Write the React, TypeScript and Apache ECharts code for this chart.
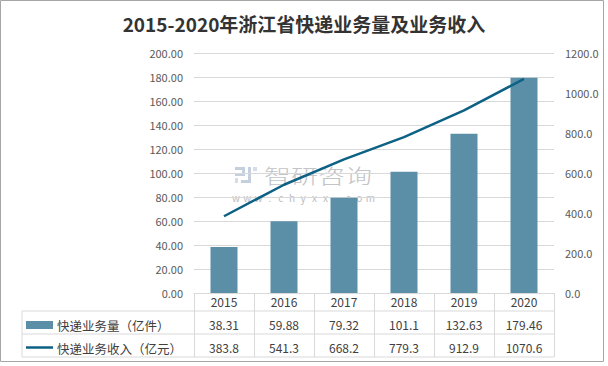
import React, { useEffect, useRef } from "react";
import * as echarts from "echarts";

const years = ["2015", "2016", "2017", "2018", "2019", "2020"];
const volume = [38.31, 59.88, 79.32, 101.1, 132.63, 179.46];
const volumeLabels = ["38.31", "59.88", "79.32", "101.1", "132.63", "179.46"];
const revenue = [383.8, 541.3, 668.2, 779.3, 912.9, 1070.6];
const revenueLabels = ["383.8", "541.3", "668.2", "779.3", "912.9", "1070.6"];
const seriesNames = ["快递业务量（亿件）", "快递业务收入（亿元）"];
const title = "2015-2020年浙江省快递业务量及业务收入";
const watermarkName = "智研咨询";
const watermarkUrl = "www.chyxx.com";

const BAR = "#5b8fa7";
const LINE = "#0d6184";
const GRID = "#d9d9d9";
const TXT = "#404040";
const FONT = "'Noto Sans CJK SC', 'Noto Sans', sans-serif";

export default function App() {
  const ref = useRef<HTMLDivElement>(null);
  useEffect(() => {
    if (!ref.current) return;
    const chart = echarts.init(ref.current, undefined, { renderer: "svg" });
    const gl = 194, gr = 554, gb = 293;
    const rowH = 23;
    const tableLeft = 22;
    const hLine = (y: number, x1: number) => ({
      type: "line",
      shape: { x1, y1: y, x2: gr, y2: y },
      style: { stroke: GRID, lineWidth: 1 },
      silent: true,
    });
    const urlChars = watermarkUrl.split("").map((c, i) => ({
      type: "text",
      x: 236 + i * 11.2,
      y: 197,
      style: {
        text: c,
        fontSize: 10,
        lineHeight: 10,
        fill: "#b9bcc1",
        fontFamily: FONT,
        align: "center",
        verticalAlign: "middle",
      },
    }));
    chart.setOption({
      animation: false,
      textStyle: { fontFamily: FONT },
      title: {
        text: title,
        left: "center",
        top: 9,
        textStyle: { fontSize: 19, fontWeight: "bold", color: "#333", fontFamily: FONT },
      },
      grid: { left: gl, right: 608 - gr, top: 53, bottom: 366 - gb },
      xAxis: [
        {
          type: "category",
          data: years,
          axisLine: { lineStyle: { color: GRID } },
          axisTick: { show: true, length: rowH * 3 - 5, lineStyle: { color: GRID } },
          axisLabel: { color: TXT, fontSize: 12, margin: 2, fontFamily: FONT },
        },
        {
          type: "category",
          data: volumeLabels,
          position: "bottom",
          offset: rowH,
          axisLine: { show: false },
          axisTick: { show: false },
          axisLabel: { color: TXT, fontSize: 12, margin: 2, fontFamily: FONT },
        },
        {
          type: "category",
          data: revenueLabels,
          position: "bottom",
          offset: rowH * 2,
          axisLine: { show: false },
          axisTick: { show: false },
          axisLabel: { color: TXT, fontSize: 12, margin: 2, fontFamily: FONT },
        },
      ],
      yAxis: [
        {
          type: "value",
          min: 0,
          max: 200,
          interval: 20,
          axisLine: { show: false },
          axisTick: { show: false },
          splitLine: { lineStyle: { color: GRID } },
          axisLabel: {
            color: "#595959",
            fontSize: 11,
            margin: 11,
            fontFamily: FONT,
            formatter: (v: number) => v.toFixed(2),
          },
        },
        {
          type: "value",
          min: 0,
          max: 1200,
          interval: 200,
          position: "right",
          axisLine: { show: false },
          axisTick: { show: false },
          splitLine: { show: false },
          axisLabel: {
            color: "#595959",
            fontSize: 11,
            margin: 11,
            fontFamily: FONT,
            formatter: (v: number) => v.toFixed(1),
          },
        },
      ],
      series: [
        {
          name: seriesNames[0],
          type: "bar",
          data: volume,
          barWidth: 27,
          itemStyle: { color: BAR },
          xAxisIndex: 0,
          yAxisIndex: 0,
          z: 3,
        },
        {
          name: seriesNames[1],
          type: "line",
          data: revenue,
          xAxisIndex: 0,
          yAxisIndex: 1,
          showSymbol: false,
          symbol: "none",
          lineStyle: { color: LINE, width: 2.5 },
          itemStyle: { color: LINE },
          z: 4,
        },
      ],
      graphic: [
        {
          type: "rect",
          shape: { x: 0.5, y: 0.5, width: 603, height: 361 },
          style: { fill: "none", stroke: "#a6a6a6", lineWidth: 1 },
          silent: true,
        },
        hLine(gb + rowH - 5, tableLeft),
        hLine(gb + rowH * 2 - 5, tableLeft),
        hLine(gb + rowH * 3 - 5, tableLeft),
        {
          type: "line",
          shape: { x1: tableLeft, y1: gb + rowH - 5, x2: tableLeft, y2: gb + rowH * 3 - 5 },
          style: { stroke: GRID, lineWidth: 1 },
          silent: true,
        },
        {
          type: "rect",
          shape: { x: 26, y: gb + rowH + 5, width: 27, height: 8 },
          style: { fill: BAR },
          silent: true,
        },
        {
          type: "line",
          shape: { x1: 26, y1: gb + rowH * 2 + 8.5, x2: 53, y2: gb + rowH * 2 + 8.5 },
          style: { stroke: LINE, lineWidth: 2.5 },
          silent: true,
        },
        {
          type: "text",
          x: 57,
          y: gb + rowH + 9,
          style: { text: seriesNames[0], fontSize: 12.5, fill: TXT, fontFamily: FONT, verticalAlign: "middle" },
          silent: true,
        },
        {
          type: "text",
          x: 57,
          y: gb + rowH * 2 + 9,
          style: { text: seriesNames[1], fontSize: 12.5, fill: TXT, fontFamily: FONT, verticalAlign: "middle" },
          silent: true,
        },
        // watermark
        {
          type: "group",
          z: 1,
          silent: true,
          children: [
            { type: "rect", shape: { x: 235, y: 167, width: 10, height: 3 }, style: { fill: "#c5d0df" } },
            { type: "rect", shape: { x: 235, y: 173, width: 10, height: 3 }, style: { fill: "#c5d0df" } },
            { type: "rect", shape: { x: 242, y: 167, width: 3, height: 9 }, style: { fill: "#c5d0df" } },
            { type: "rect", shape: { x: 235, y: 178, width: 3, height: 5 }, style: { fill: "#d5dde8" } },
            { type: "rect", shape: { x: 248, y: 167, width: 3, height: 16 }, style: { fill: "#c5d0df" } },
            { type: "rect", shape: { x: 241, y: 180, width: 10, height: 3 }, style: { fill: "#c5d0df" } },
            { type: "rect", shape: { x: 253, y: 167, width: 4, height: 4 }, style: { fill: "#d5dde8" } },
            {
              type: "text",
              x: 264,
              y: 175,
              scaleX: 1.35,
              style: {
                text: watermarkName,
                fontSize: 20,
                lineHeight: 20,
                fontWeight: 300,
                fill: "#c2c4c8",
                fontFamily: FONT,
                verticalAlign: "middle",
              },
            },
            ...urlChars,
          ],
        },
      ],
    });
    return () => chart.dispose();
  }, []);
  return (
    <div
      ref={ref}
      style={{ position: "fixed", left: 0, top: 0, width: 608, height: 366, background: "#fff" }}
    />
  );
}
